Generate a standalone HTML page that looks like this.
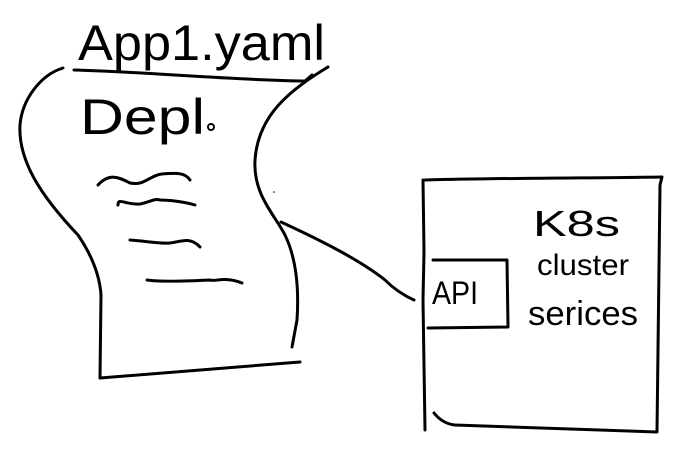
<!DOCTYPE html>
<html><head><meta charset="utf-8"><style>
html,body{margin:0;padding:0;background:#fff;}
svg{display:block;}
text{font-family:"Liberation Sans",sans-serif;fill:#000;}
</style></head><body>
<svg width="678" height="472" viewBox="0 0 678 472" xmlns="http://www.w3.org/2000/svg">
<g fill="none" stroke="#000" stroke-width="3" stroke-linecap="round" stroke-linejoin="round">
<!-- scroll left edge -->
<path d="M63,68 C40,75 22,100 20,125 C18,160 40,195 78,235 C95,260 100,280 101,295 L100,378 L300,362"/>
<!-- top line -->
<path d="M74,70 C150,72 230,80 305,81 L312,75"/>
<!-- right edge -->
<path d="M328,67 C290,90 258,115 255,160 C253,195 275,215 285,235 C297,260 299,290 297,320 L292,347"/>
<!-- squiggles -->
<path d="M98,185 C110,172 120,178 130,183 C145,186 150,175 162,174 C175,173 185,172 190,180"/>
<path d="M118,205 C118,197 125,205 140,204 C150,202 155,198 160,200 C170,200 185,202 195,205"/>
<path d="M130,240 C145,241 160,244 170,243 C180,242 190,236 200,247"/>
<path d="M147,280 C160,282 190,281 210,280 C215,282 225,276 242,283"/>
<!-- connector -->
<path d="M281,222 C320,240 360,260 385,280 C395,290 405,296 414,300"/>
<!-- K8s box -->
<path d="M425,180 C500,178 600,178 662,177 L660,185 L657,432 L455,425 C445,424 438,418 434,413"/>
<path d="M423,180 L424,252 L423,300 L425,430"/>
<!-- API box -->
<path d="M433,260 L507,260 L508,327 L428,328"/>
</g>
<circle cx="211" cy="127" r="3" fill="none" stroke="#000" stroke-width="2"/>
<circle cx="274" cy="192" r="0.8" fill="#000"/>
<text x="78" y="60" font-size="50" textLength="247" lengthAdjust="spacingAndGlyphs">App1.yaml</text>
<text x="80" y="134" font-size="50" textLength="125" lengthAdjust="spacingAndGlyphs">Depl</text>
<text x="432" y="304" font-size="32" textLength="46" lengthAdjust="spacingAndGlyphs">API</text>
<text x="533" y="236" font-size="36" textLength="87" lengthAdjust="spacingAndGlyphs">K8s</text>
<text x="537" y="275" font-size="30" textLength="92" lengthAdjust="spacingAndGlyphs">cluster</text>
<text x="528" y="325" font-size="34" textLength="110" lengthAdjust="spacingAndGlyphs">serices</text>
</svg>
</body></html>
